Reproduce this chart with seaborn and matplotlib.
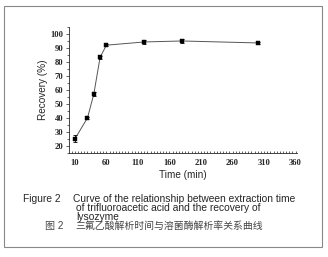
import numpy as np
import pandas as pd
import matplotlib
matplotlib.use("Agg")
import matplotlib.pyplot as plt
import seaborn as sns
from matplotlib.patches import Rectangle
from matplotlib.ticker import MultipleLocator

time_min = [10, 30, 40, 50, 60, 120, 180, 300]
recovery = [25.0, 40.0, 57.0, 83.3, 92.0, 94.3, 95.0, 93.6]
err = [2.5, 0.6, 1.5, 1.0, 0.6, 1.6, 1.6, 0.6]
xticks = [10, 60, 110, 160, 210, 260, 310, 360]
yticks = [20, 30, 40, 50, 60, 70, 80, 90, 100]

df = pd.DataFrame({"Time (min)": time_min, "Recovery (%)": recovery})

sns.set_style("ticks")
plt.rcParams['font.family'] = ['Liberation Sans', 'Noto Sans CJK SC', 'DejaVu Sans']

fig = plt.figure(figsize=(3.28, 2.57), dpi=100)
ax = fig.add_axes([0.210, 0.405, 0.695, 0.49])

sns.lineplot(data=df, x="Time (min)", y="Recovery (%)", ax=ax, color="#555555",
             linewidth=0.7, marker="s", markersize=2.6, markerfacecolor="black",
             markeredgecolor="black", markeredgewidth=0.3)
ax.errorbar(time_min, recovery, yerr=err, fmt="none", ecolor="black",
            elinewidth=0.6, capsize=1.3, capthick=0.6)

ax.set_xlim(0.5, 362)
ax.set_ylim(15, 105)
ax.set_xticks(xticks)
ax.set_yticks(yticks)
ax.xaxis.set_minor_locator(MultipleLocator(5))
ax.yaxis.set_minor_locator(MultipleLocator(5))
ax.tick_params(axis="x", which="both", direction="in", length=1.5, width=0.5, pad=4.5)
ax.tick_params(axis="y", which="major", direction="out", length=2.2, width=0.5, pad=1.5)
ax.tick_params(axis="y", which="minor", direction="out", length=1.2, width=0.5)
for lab in ax.get_xticklabels() + ax.get_yticklabels():
    lab.set_fontfamily("Liberation Serif")
    lab.set_fontweight("bold")
    lab.set_fontsize(6.2)
for s in ["top", "right"]:
    ax.spines[s].set_visible(False)
for s in ["left", "bottom"]:
    ax.spines[s].set_linewidth(0.6)
ax.set_xlabel("Time (min)", fontsize=7.2, labelpad=2)
ax.set_ylabel("Recovery (%)", fontsize=7.2, labelpad=2)

fig.patches.append(Rectangle((4/328, 1-247/257), 318/328, 241/257, transform=fig.transFigure,
                             fill=False, edgecolor="#888888", linewidth=0.8))

fs = 7.4
fig.text(23/328, 1-199/257, "Figure 2", fontsize=fs, va="center", ha="left")
fig.text(73/328, 1-199/257, "Curve of the relationship between extraction time", fontsize=fs, va="center", ha="left")
fig.text(76/328, 1-208/257, "of trifluoroacetic acid and the recovery of", fontsize=fs, va="center", ha="left")
fig.text(76/328, 1-216.5/257, "lysozyme", fontsize=fs, va="center", ha="left")
fig.text(45/328, 1-225.5/257, "图 2", fontsize=7.2, va="center", ha="left", color="#444444")
fig.text(75/328, 1-225.5/257, "三氟乙酸解析时间与溶菌酶解析率关系曲线", fontsize=7.1, va="center", ha="left", color="#444444")

fig.savefig("out.png", dpi=100)
